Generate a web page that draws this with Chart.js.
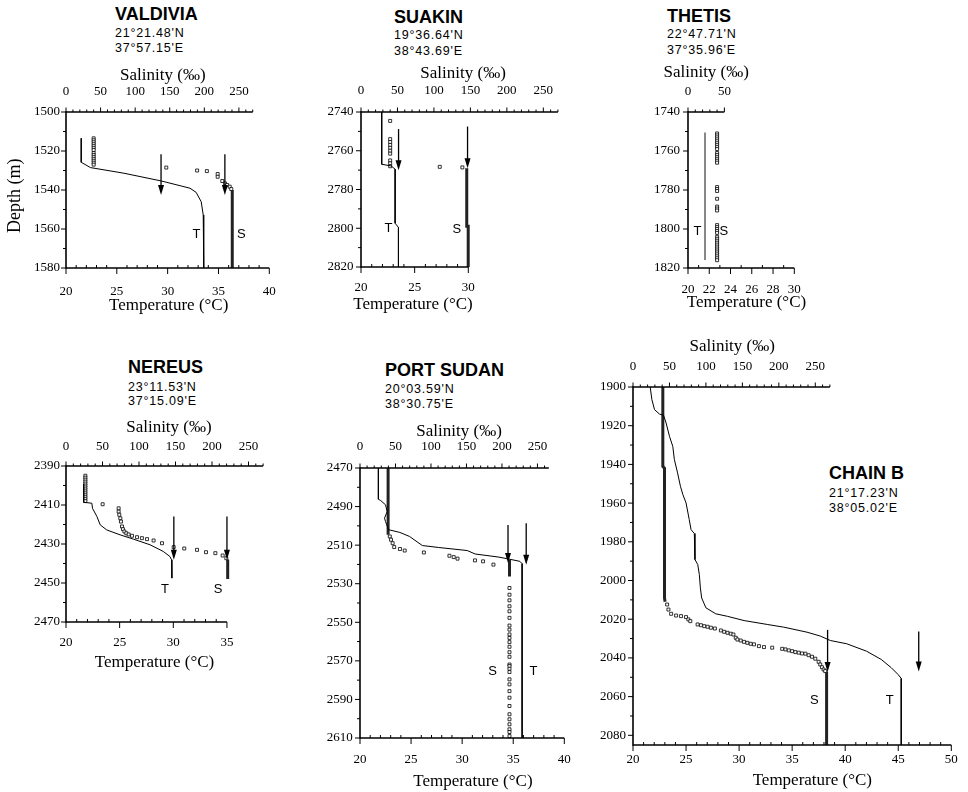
<!DOCTYPE html>
<html>
<head>
<meta charset="utf-8">
<script src="https://cdn.jsdelivr.net/npm/chart.js@4.4.0/dist/chart.umd.min.js"></script>
<style>
  body { margin: 0; background: #fff; }
  #page { position: relative; width: 968px; height: 792px; overflow: hidden; background: #fff; }
  canvas { position: absolute; }
  .name { position: absolute; font: bold 18px "Liberation Sans", Arial, sans-serif; line-height: 18px; white-space: nowrap; color: #000; }
  .coord { position: absolute; font: 12.5px "Liberation Sans", Arial, sans-serif; line-height: 12.5px; letter-spacing: 0.8px; white-space: nowrap; color: #000; }
</style>
</head>
<body>
<div id="page">
  <div class="name" style="left:115px;top:5px">VALDIVIA</div>
  <div class="coord" style="left:115px;top:27px">21°21.48'N</div>
  <div class="coord" style="left:115px;top:42px">37°57.15'E</div>

  <div class="name" style="left:394px;top:8px">SUAKIN</div>
  <div class="coord" style="left:394px;top:29px">19°36.64'N</div>
  <div class="coord" style="left:394px;top:45px">38°43.69'E</div>

  <div class="name" style="left:667px;top:7px">THETIS</div>
  <div class="coord" style="left:667px;top:28px">22°47.71'N</div>
  <div class="coord" style="left:667px;top:44px">37°35.96'E</div>

  <div class="name" style="left:128px;top:358px">NEREUS</div>
  <div class="coord" style="left:128px;top:381px">23°11.53'N</div>
  <div class="coord" style="left:128px;top:395px">37°15.09'E</div>

  <div class="name" style="left:385px;top:361px">PORT SUDAN</div>
  <div class="coord" style="left:385px;top:383px">20°03.59'N</div>
  <div class="coord" style="left:385px;top:398px">38°30.75'E</div>

  <div class="name" style="left:829px;top:464px">CHAIN B</div>
  <div class="coord" style="left:829px;top:487px">21°17.23'N</div>
  <div class="coord" style="left:829px;top:502px">38°05.02'E</div>

  <canvas id="valdivia"></canvas>
  <canvas id="suakin"></canvas>
  <canvas id="thetis"></canvas>
  <canvas id="nereus"></canvas>
  <canvas id="portSudan"></canvas>
  <canvas id="chainB"></canvas>
</div>
<script>
// ---- tick labels ----
const salTicks = [0, 50, 100, 150, 200, 250];
const thetisSalTicks = [0, 50];
const valdiviaTempTicks = [20, 25, 30, 35, 40];
const suakinTempTicks = [20, 25, 30];
const thetisTempTicks = [20, 22, 24, 26, 28, 30];
const nereusTempTicks = [20, 25, 30, 35];
const portSudanTempTicks = [20, 25, 30, 35, 40];
const chainBTempTicks = [20, 25, 30, 35, 40, 45, 50];
const valdiviaDepthTicks = [1500, 1520, 1540, 1560, 1580];
const suakinDepthTicks = [2740, 2760, 2780, 2800, 2820];
const thetisDepthTicks = [1740, 1760, 1780, 1800, 1820];
const nereusDepthTicks = [2390, 2410, 2430, 2450, 2470];
const portSudanDepthTicks = [2470, 2490, 2510, 2530, 2550, 2570, 2590, 2610];
const chainBDepthTicks = [1900, 1920, 1940, 1960, 1980, 2000, 2020, 2040, 2060, 2080];

// ---- VALDIVIA: [temperature, depth] and [salinity, depth] ----
const valdiviaTemp = [[21.5, 1513.5], [21.5, 1525.8], [22.4, 1528.5], [25.7, 1531.4], [29.4, 1535.4], [31.3, 1537.9],
  [32.2, 1539.1], [32.8, 1541.2], [33.3, 1546], [33.5, 1552.8], [33.55, 1580]];
const valdiviaSal = [[40, 1513.5], [40, 1514.5], [40, 1515.5], [40, 1516.5], [40, 1517.5], [40, 1518.5], [40, 1519.5],
  [40, 1521], [40, 1522], [40, 1523], [40, 1524], [40, 1525], [40, 1526], [40, 1527],
  [145, 1528.5], [189.6, 1530], [203.7, 1530.3], [219.3, 1531.8], [219.3, 1533.2], [226, 1535.4], [229.8, 1536.6],
  [233, 1537.4], [236.7, 1538.3], [239, 1539.5]];
const valdiviaSalColumn = [[240.4, 1540], [240.4, 1580]];
const valdiviaArrows = [[29.35, 1521.7, 1542.6], [35.63, 1521.7, 1542.6]];

// ---- SUAKIN ----
const suakinTemp = [[21.93, 2740], [21.93, 2767], [22.8, 2767.8], [23.18, 2769.5], [23.18, 2797.4], [23.49, 2799.6], [23.49, 2820]];
const suakinSal = [[40, 2744.6], [40, 2754], [40, 2755.5], [40, 2757], [40, 2758.5], [40, 2760], [40, 2761.5],
  [40, 2765], [40, 2766.5], [40, 2768], [108, 2768.3], [139, 2768.6]];
const suakinSalColumn = [[145, 2769], [145, 2799], [147, 2799], [147, 2820]];
const suakinArrows = [[23.5, 2748.8, 2770], [29.93, 2747.5, 2769]];

// ---- THETIS ----
const thetisTemp = [[21.6, 1750.6], [21.6, 1815.9]];
const thetisSal = [[40, 1751], [40, 1752], [40, 1753], [40, 1754], [40, 1755], [40, 1756], [40, 1757], [40, 1758], [40, 1759],
  [40, 1761], [40, 1762], [40, 1763], [40, 1764], [40, 1765], [40, 1766],
  [40, 1778.5], [40, 1779.5], [40, 1780.5], [40, 1784.5], [40, 1788.5], [40, 1789.5], [40, 1790.5],
  [40, 1798], [40, 1799], [40, 1800], [40, 1801], [40, 1802], [40, 1804], [40, 1805], [40, 1806], [40, 1807],
  [40, 1808], [40, 1809], [40, 1810], [40, 1811], [40, 1812], [40, 1813], [40, 1814], [40, 1815], [40, 1816]];

// ---- NEREUS ----
const nereusTemp = [[21.64, 2399.2], [21.64, 2408.6], [22.41, 2409.1], [22.47, 2411.7], [22.88, 2415.9], [23.19, 2420.2],
  [23.8, 2422.8], [25.04, 2425.3], [26.28, 2427.5], [27.83, 2430.4], [29.06, 2433.8], [29.68, 2436.4], [29.84, 2438.1], [29.87, 2447.5]];
const nereusSal = [[26.5, 2395], [26.5, 2396], [26.5, 2397], [26.5, 2398], [26.5, 2399], [26.5, 2400], [26.5, 2401],
  [26.5, 2402], [26.5, 2403], [26.5, 2404], [26.5, 2405], [26.5, 2406], [26.5, 2407], [26.5, 2408],
  [50.2, 2409.6], [72.1, 2411.7], [72.1, 2413.4], [73, 2415], [74.4, 2416.8], [75.3, 2418.5], [76.7, 2421], [78, 2422.4],
  [80, 2423.6], [82.6, 2424.5], [85.8, 2425.1], [90.4, 2425.8], [97.3, 2426.5], [104, 2427], [111, 2427.5], [120, 2428.2],
  [131.5, 2429.6], [147.5, 2431.6], [162, 2432.3], [179.5, 2433], [191.8, 2434.2], [204.6, 2434.7], [214.6, 2435.9], [219.6, 2437.3]];
const nereusSalColumn = [[221.5, 2438], [221.5, 2448]];
const nereusArrows = [[30.05, 2415.9, 2438.1], [35.0, 2415.9, 2438.1]];

// ---- PORT SUDAN ----
const portSudanTemp = [[21.8, 2470], [21.8, 2486.2], [22.03, 2486.9], [22.5, 2489.1], [22.66, 2492.6], [22.4, 2496], [22.5, 2497.8],
  [22.8, 2502], [23.9, 2503.4], [24.85, 2505.5], [26.1, 2510.2], [27.67, 2511.2], [30.5, 2512.8], [31.27, 2514.6],
  [33.6, 2516.2], [34.55, 2517.2], [35.65, 2518.4], [35.87, 2519.6], [35.87, 2610]];
const portSudanSalColumnTop = [[39.6, 2470], [39.6, 2504.6]];
const portSudanSal = [[42, 2505.5], [43.7, 2507.2], [46, 2509], [48.2, 2511], [56.3, 2512], [63, 2512.8], [90, 2513.8],
  [126, 2515.5], [132, 2516.2], [137.4, 2517], [162, 2517.9], [173.4, 2518.4], [188, 2520.1],
  [210.6, 2532.2], [210.6, 2535.7], [210.6, 2538.6], [210.6, 2541.7], [210.6, 2544.3], [210.6, 2547.7], [210.6, 2551.7],
  [210.6, 2553.8], [210.6, 2556.3], [210.6, 2558.1], [210.6, 2560.3], [210.6, 2562.7], [210.6, 2565.5], [210.6, 2567.9],
  [210.6, 2571.9], [210.6, 2572.7], [210.6, 2574.1], [210.6, 2575.8], [210.6, 2579.6], [210.6, 2582.2], [210.6, 2585.7],
  [210.6, 2589.1], [210.6, 2593.4], [210.6, 2597.7], [210.6, 2600.3], [210.6, 2602.9], [210.6, 2605.5], [210.6, 2606.9], [210.6, 2609]];
const portSudanSalColumn = [[210.6, 2517.6], [210.6, 2526.2]];
const portSudanArrows = [[34.49, 2499.5, 2519.3], [36.27, 2498.6, 2520.2]];

// ---- CHAIN B ----
const chainBTemp = [[21.62, 1900], [21.78, 1906.5], [22.03, 1911.7], [22.5, 1914], [22.88, 1914.6], [23.12, 1918.6], [23.44, 1925.5],
  [23.75, 1930.7], [23.9, 1937.5], [24.2, 1944.4], [24.47, 1951.3], [24.7, 1955.6], [25.0, 1959.9], [25.3, 1968.5], [25.47, 1973.7],
  [25.78, 1975.7], [25.84, 1989.2], [26.1, 1991.7], [26.25, 1996.9], [26.35, 2003.8], [26.47, 2009], [26.87, 2014.1], [27.8, 2017.2],
  [28.9, 2018.5], [30.47, 2020.7], [32.65, 2022.7], [34.2, 2024.1], [36.4, 2026.7], [37.65, 2028.7], [38.6, 2031], [40.15, 2032.7],
  [42.0, 2036.5], [43.4, 2040.8], [44.35, 2045.1], [44.97, 2048.5], [45.28, 2050.6], [45.28, 2085]];
const chainBSalColumnTop = [[40.9, 1900], [40.9, 1941], [43.2, 1942], [43.2, 2009], [44, 2011]];
const chainBSal = [[46.8, 2012.4], [48.6, 2015], [52.3, 2017.2], [59.1, 2018.1], [65.9, 2018.4], [72.7, 2018.9], [75.9, 2020.1],
  [78.6, 2021], [88.6, 2022.7], [93.2, 2023.1], [97.7, 2023.6], [102.3, 2023.9], [106.8, 2024.4], [112.3, 2024.8], [120.5, 2025.8],
  [125, 2026.5], [129.6, 2027], [134.1, 2027.5], [137.7, 2027.9], [140.9, 2029.6], [143.2, 2030.5], [147.7, 2031], [152.3, 2031.7],
  [156.8, 2032.2], [161.4, 2032.7], [165.9, 2033], [172.7, 2033.9], [179.6, 2034.4], [190.9, 2034.7], [204.6, 2035.3], [209.1, 2035.6],
  [213.6, 2036.1], [218.2, 2036.5], [222.7, 2037], [227.3, 2037.3], [231.8, 2037.7], [236.4, 2037.8], [240.9, 2038.6], [245.5, 2039.4],
  [250, 2040.4], [254.6, 2042], [256.8, 2043.4], [259.1, 2044.8], [261.4, 2046], [263.6, 2046.8]];
const chainBSalColumn = [[265.5, 2047], [265.5, 2085]];
const chainBArrows = [[38.34, 2025.5, 2047.3], [46.93, 2026.4, 2047]];

const SERIF = "'Liberation Serif', 'Times New Roman', serif";
const SANS = "'Liberation Sans', Arial, sans-serif";

Chart.defaults.font.family = SERIF;
Chart.defaults.font.size = 13;
Chart.defaults.color = '#000';

function tLine(data, color) {
  return { data: data.map(p => ({ x: p[0], y: p[1] })), xAxisID: 'x', yAxisID: 'y', showLine: true,
    borderColor: color || '#000', borderWidth: 1, pointRadius: 0, tension: 0 };
}
function sPoints(data) {
  return { data: data.map(p => ({ x: p[0], y: p[1] })), xAxisID: 's', yAxisID: 'y', showLine: false,
    pointStyle: 'rect', pointRadius: 2.1, borderColor: '#000', borderWidth: 0.8, backgroundColor: '#fff' };
}
function sColumn(data) {
  return { data: data.map(p => ({ x: p[0], y: p[1] })), xAxisID: 's', yAxisID: 'y', showLine: true,
    borderColor: '#222', borderWidth: 3, pointRadius: 0, tension: 0 };
}

// axis lines, minor ticks, arrows, T/S letters and axis titles
const framePlugin = {
  id: 'frame',
  afterDatasetsDraw(chart, args, o) {
    const { ctx, chartArea: a } = chart;
    const x = chart.scales.x, s = chart.scales.s, y = chart.scales.y;
    const seg = (x1, y1, x2, y2) => { ctx.beginPath(); ctx.moveTo(x1, y1); ctx.lineTo(x2, y2); ctx.stroke(); };
    ctx.save();
    ctx.strokeStyle = '#000';
    ctx.fillStyle = '#000';

    ctx.lineWidth = 1.6;
    seg(a.left, a.top - 0.8, a.left, a.bottom + 0.8);
    seg(a.left, a.bottom, x.getPixelForValue(o.tEnd), a.bottom);
    seg(a.left, a.top, s.getPixelForValue(o.sEnd), a.top);

    ctx.lineWidth = 1;
    for (let i = 0; y.min + i * 10 <= y.max + 0.01; i++) {
      const v = y.min + i * 10, py = y.getPixelForValue(v);
      const major = o.depthTicks.includes(v);
      seg(a.left - (major ? 5 : 3), py, a.left, py);
    }
    for (let i = 0; x.min + i <= o.tEnd + 0.01; i++) {
      const v = x.min + i, px = x.getPixelForValue(v);
      if (o.tempTicks.includes(v)) seg(px, a.bottom, px, a.bottom + 6);
      else seg(px, a.bottom, px, a.bottom - 3);
    }
    for (let i = 0; i * 10 <= o.sEnd + 0.01; i++) {
      const v = i * 10, px = s.getPixelForValue(v);
      seg(px, a.top, px, a.top - (o.salTicks.includes(v) ? 4.5 : 2.5));
    }

    ctx.lineWidth = 1.3;
    o.arrows.forEach(([t, d1, d2]) => {
      const px = x.getPixelForValue(t), p1 = y.getPixelForValue(d1), p2 = y.getPixelForValue(d2);
      seg(px, p1, px, p2 - 6);
      ctx.beginPath();
      ctx.moveTo(px - 3, p2 - 10);
      ctx.lineTo(px + 3, p2 - 10);
      ctx.lineTo(px, p2);
      ctx.closePath();
      ctx.fill();
    });

    ctx.textAlign = 'center';
    ctx.textBaseline = 'middle';
    ctx.font = '13px ' + SANS;
    o.letters.forEach(([txt, t, d]) => ctx.fillText(txt, x.getPixelForValue(t), y.getPixelForValue(d)));

    ctx.font = '17px ' + SERIF;
    ctx.fillText('Salinity (‰)', s.getPixelForValue(o.salTitle[0]), a.top - o.salTitle[1]);
    ctx.fillText('Temperature (°C)', x.getPixelForValue(o.tempTitle[0]), a.bottom + o.tempTitle[1]);
    if (o.depthTitle) {
      ctx.font = '18px ' + SERIF;
      ctx.translate(a.left - 51, y.getPixelForValue(o.depthTitle));
      ctx.rotate(-Math.PI / 2);
      ctx.fillText('Depth (m)', 0, 0);
    }
    ctx.restore();
  }
};

function axisTicks(arr) {
  return sc => { sc.ticks = arr.map(v => ({ value: v })); };
}

function buildPanel(p) {
  const [cl, ct, cr, cb] = p.canvas;
  const [pl, pt, pr, pb] = p.plot;
  const el = document.getElementById(p.id);
  el.width = cr - cl;
  el.height = cb - ct;
  el.style.left = cl + 'px';
  el.style.top = ct + 'px';
  el.style.width = (cr - cl) + 'px';
  el.style.height = (cb - ct) + 'px';
  const tickFont = { family: SERIF, size: 13 };
  const salMax = (pr - pl) / p.salPx;
  const tempMax = p.temp[0] + (pr - pl) / p.tempPx;
  new Chart(el, {
    type: 'scatter',
    data: { datasets: p.datasets },
    plugins: [framePlugin],
    options: {
      responsive: false,
      animation: false,
      devicePixelRatio: 1,
      layout: { padding: { left: 0, top: 0, bottom: 0, right: cr - pr } },
      plugins: {
        legend: { display: false },
        tooltip: { enabled: false },
        frame: {
          tEnd: p.tEnd, sEnd: p.sEnd, arrows: p.arrows, letters: p.letters,
          tempTicks: p.tempTicks, salTicks: p.salTicks, depthTicks: p.depthTicks,
          salTitle: p.salTitle, tempTitle: p.tempTitle, depthTitle: p.depthTitle
        }
      },
      scales: {
        x: {
          type: 'linear', position: 'bottom', min: p.temp[0], max: tempMax,
          afterBuildTicks: axisTicks(p.tempTicks),
          afterFit: sc => { sc.height = cb - pb; },
          grid: { display: false, drawTicks: false }, border: { display: false },
          ticks: { padding: p.pad[2], font: tickFont, color: '#000', maxRotation: 0, autoSkip: false, callback: v => String(v) }
        },
        s: {
          type: 'linear', position: 'top', min: 0, max: salMax,
          afterBuildTicks: axisTicks(p.salTicks),
          afterFit: sc => { sc.height = pt - ct; },
          grid: { display: false, drawTicks: false }, border: { display: false },
          ticks: { padding: p.pad[1], font: tickFont, color: '#000', maxRotation: 0, autoSkip: false, callback: v => String(v) }
        },
        y: {
          type: 'linear', position: 'left', reverse: true, min: p.depth[0], max: p.depth[1],
          afterBuildTicks: axisTicks(p.depthTicks),
          afterFit: sc => { sc.width = pl - cl; },
          grid: { display: false, drawTicks: false }, border: { display: false },
          ticks: { padding: p.pad[0], font: tickFont, color: '#000', autoSkip: false, callback: v => String(v) }
        }
      }
    }
  });
}

const panels = [
  {
    id: 'valdivia', canvas: [0, 62, 292, 318], plot: [66, 112, 280, 268],
    temp: [20, 40], tempPx: 10.7, salPx: 0.728, depth: [1500, 1580],
    tempTicks: valdiviaTempTicks, salTicks: salTicks, depthTicks: valdiviaDepthTicks,
    tEnd: 40, sEnd: 270, pad: [6, 12.2, 16.2],
    salTitle: [140, 36], tempTitle: [30.1, 38], depthTitle: 1543,
    arrows: valdiviaArrows, letters: [['T', 32.83, 1563], ['S', 37.26, 1563]],
    datasets: [tLine(valdiviaTemp), sPoints(valdiviaSal), sColumn(valdiviaSalColumn)]
  },
  {
    id: 'suakin', canvas: [295, 60, 572, 318], plot: [361, 112, 560, 267],
    temp: [20, 30], tempPx: 10.73, salPx: 0.7293, depth: [2740, 2820],
    tempTicks: suakinTempTicks, salTicks: salTicks, depthTicks: suakinDepthTicks,
    tEnd: 30, sEnd: 270, pad: [7.5, 13.2, 13.2],
    salTitle: [140, 38], tempTitle: [24.85, 38], depthTitle: null,
    arrows: suakinArrows, letters: [['T', 22.55, 2800], ['S', 28.94, 2800.8]],
    datasets: [tLine(suakinTemp), sPoints(suakinSal), sColumn(suakinSalColumn)]
  },
  {
    id: 'thetis', canvas: [622, 60, 815, 318], plot: [688, 112, 798, 268],
    temp: [20, 30], tempPx: 11, salPx: 0.753, depth: [1740, 1820],
    tempTicks: thetisTempTicks, salTicks: thetisSalTicks, depthTicks: thetisDepthTicks,
    tEnd: 30, sEnd: 50, pad: [8, 12.2, 14.2],
    salTitle: [25, 39], tempTitle: [25.5, 35], depthTitle: null,
    arrows: [], letters: [['T', 20.9, 1801.4], ['S', 23.36, 1801.4]],
    datasets: [tLine(thetisTemp, '#777'), sPoints(thetisSal)]
  },
  {
    id: 'nereus', canvas: [0, 410, 276, 690], plot: [66, 466, 264, 622],
    temp: [20, 35], tempPx: 10.73, salPx: 0.73, depth: [2390, 2470],
    tempTicks: nereusTempTicks, salTicks: salTicks, depthTicks: nereusDepthTicks,
    tEnd: 35, sEnd: 270, pad: [6, 11.2, 13.2],
    salTitle: [141, 38], tempTitle: [28.25, 41], depthTitle: null,
    arrows: nereusArrows, letters: [['T', 29.22, 2453.1], ['S', 34.17, 2453.1]],
    datasets: [tLine(nereusTemp), sPoints(nereusSal), sColumn(nereusSalColumn)]
  },
  {
    id: 'portSudan', canvas: [294, 415, 585, 792], plot: [360, 468, 573, 738],
    temp: [20, 40], tempPx: 10.65, salPx: 0.74, depth: [2470, 2610],
    tempTicks: portSudanTempTicks, salTicks: salTicks, depthTicks: portSudanDepthTicks,
    tEnd: 40, sEnd: 266, pad: [7.3, 13.2, 14.2],
    salTitle: [139.6, 36], tempTitle: [31.05, 44], depthTitle: null,
    arrows: portSudanArrows, letters: [['S', 32.99, 2575.3], ['T', 36.97, 2575.3]],
    datasets: [tLine(portSudanTemp), sColumn(portSudanSalColumnTop), sPoints(portSudanSal), sColumn(portSudanSalColumn)]
  },
  {
    id: 'chainB', canvas: [567, 330, 965, 792], plot: [633, 387, 953, 745],
    temp: [20, 50], tempPx: 10.67, salPx: 0.7333, depth: [1900, 2085],
    tempTicks: chainBTempTicks, salTicks: salTicks, depthTicks: chainBDepthTicks,
    tEnd: 50, sEnd: 270, pad: [7, 12.2, 7.2],
    salTitle: [136, 40], tempTitle: [36.9, 36], depthTitle: null,
    arrows: chainBArrows, letters: [['S', 37.1, 2062], ['T', 44.2, 2062]],
    datasets: [tLine(chainBTemp), sColumn(chainBSalColumnTop), sPoints(chainBSal), sColumn(chainBSalColumn)]
  }
];

panels.forEach(buildPanel);
</script>
</body>
</html>
